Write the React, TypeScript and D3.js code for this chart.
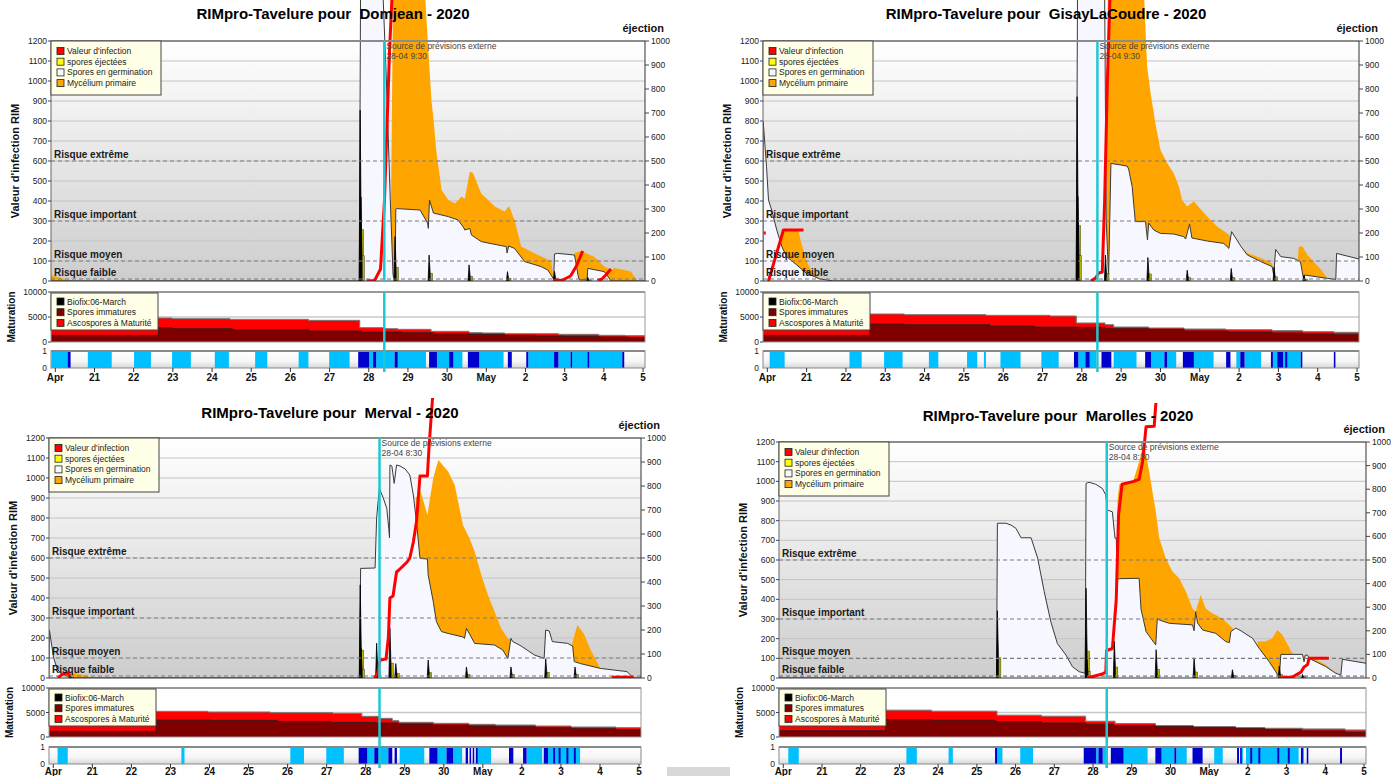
import React from "react";
import * as d3 from "d3";

type P = [number, number];

// ---------- shared axes / labels ----------
const DAY_TICKS = d3.range(0, 16);
const DAY_LABELS = ["Apr", "21", "22", "23", "24", "25", "26", "27", "28", "29", "30", "May", "2", "3", "4", "5"];
const LEFT_TICKS = d3.range(0, 1201, 100);
const RIGHT_TICKS = d3.range(0, 1001, 100);
const MAT_TICKS = [0, 5000, 10000];
const RISKS = [
  { v: 600, label: "Risque extrême" },
  { v: 300, label: "Risque important" },
  { v: 100, label: "Risque moyen" },
  { v: 10, label: "Risque faible" },
];
const LEGEND_MAIN = [
  { label: "Valeur d'infection", color: "#ff0000" },
  { label: "spores éjectées", color: "#ffff00" },
  { label: "Spores en germination", color: "#f8f8ff" },
  { label: "Mycélium primaire", color: "#ffa500" },
];
const LEGEND_MAT = [
  { label: "Biofix:06-March", color: "#000000" },
  { label: "Spores immatures", color: "#800000" },
  { label: "Ascospores à Maturité", color: "#ff0000" },
];
const DOMAIN: [number, number] = [-0.11, 15.05];

// ---------- Domjean ----------
const domjeanGerm: P[] = [[-0.11,0],[7.76,0],[7.79,1450],[8.36,1450],[8.45,1000],[8.55,400],[8.62,30],[8.66,0],[8.67,0],[8.69,360],[8.71,362],[9.31,355],[9.50,290],[9.52,263],[9.55,405],[9.65,340],[10.03,322],[10.28,305],[10.43,265],[10.45,255],[10.58,263],[10.62,230],[10.87,197],[11.30,180],[11.51,172],[11.53,140],[11.57,175],[11.72,163],[11.98,97],[12.40,72],[12.57,55],[12.70,15],[12.72,5],[12.74,135],[12.82,138],[13.25,130],[13.35,20],[13.38,5],[13.57,5],[13.59,63],[14.01,47],[14.15,10],[14.18,0],[15.05,0]];
const domjeanMyc: P[] = [[-0.11,30],[0.40,0],[8.55,0],[8.62,1450],[9.43,1450],[9.60,900],[9.65,813],[9.73,638],[9.86,455],[10.03,405],[10.20,388],[10.37,422],[10.45,410],[10.58,547],[10.66,540],[10.87,438],[11.22,372],[11.47,347],[11.58,375],[11.72,305],[11.89,172],[12.06,155],[12.40,122],[12.65,100],[12.72,15],[12.74,0],[13.20,0],[13.25,140],[13.42,150],[13.76,120],[14.01,72],[14.18,55],[14.27,65],[14.69,47],[14.86,0],[15.05,0]];
const domjeanInfect: P[][] = [
  [[7.95,0],[8.15,3],[8.30,60],[8.40,400],[8.47,800],[8.53,1150],[8.60,1450]],
  [[12.70,2],[12.95,5],[13.15,25],[13.30,75],[13.46,150]],
  [[13.84,2],[13.95,10],[14.05,30],[14.18,60]],
];
const domjeanEject: P[] = [[7.78,712],[7.80,350],[8.67,185],[9.54,108],[10.56,67],[11.54,39],[12.74,40],[13.59,15]];
const domjeanImmature: P[] = [[-0.11,1333],[2.63,2867],[2.98,2667],[4.52,2467],[6.46,2200],[7.82,2000],[8.85,1867],[9.65,1667],[10.56,1533],[11.47,1333],[12.27,1200],[12.96,1133],[13.87,1000],[14.61,867],[15.05,867]];
const domjeanMature: P[] = [[-0.11,4800],[2.98,4667],[4.46,4533],[6.46,4333],[7.77,2867],[8.40,2667],[8.74,2533],[9.59,2133],[10.56,1867],[10.90,1800],[11.47,1667],[12.84,1533],[13.87,1333],[14.55,1267],[15.05,1267]];
const domjeanWet: P[] = [[-0.10,0.35],[0.83,1.44],[2.01,2.44],[2.98,3.46],[4.07,4.43],[5.10,5.41],[6.21,6.46],[6.99,7.51],[8.01,8.11],[8.19,8.66],[8.74,9.46],[9.74,10.05],[10.16,10.39],[10.82,11.44],[12.07,12.73],[12.84,13.15],[13.18,13.58],[13.63,14.47]];
const domjeanRain: P[] = [[0.32,0.39],[7.73,8.01],[8.11,8.19],[8.66,8.74],[9.54,9.74],[10.05,10.16],[10.53,10.82],[11.55,11.65],[12.02,12.07],[12.73,12.84],[13.15,13.18],[13.58,13.63],[14.47,14.52]];

// ---------- GisayLaCoudre ----------
const gisayGerm: P[] = [[-0.11,0],[-0.105,797],[-0.02,572],[0.03,405],[0.11,355],[0.24,255],[0.37,172],[0.49,122],[0.75,80],[1.00,38],[1.34,10],[1.68,0],[7.86,0],[7.89,1450],[8.58,1450],[8.62,300],[8.68,20],[8.74,588],[9.15,575],[9.19,560],[9.28,472],[9.36,297],[9.62,297],[9.67,205],[9.70,290],[9.83,255],[10.00,238],[10.34,235],[10.59,222],[10.64,210],[10.74,285],[10.80,215],[11.19,200],[11.61,188],[11.74,163],[11.81,247],[12.04,175],[12.21,130],[12.55,97],[12.84,72],[12.88,30],[12.93,158],[13.06,122],[13.39,113],[13.56,97],[13.64,10],[13.67,30],[14.25,13],[14.46,8],[14.48,138],[15.05,110]];
const gisayMyc: P[] = [[-0.11,0],[0.30,0],[0.37,255],[0.79,255],[0.85,200],[1.00,100],[1.15,40],[1.43,0],[8.62,0],[8.66,1450],[9.58,1450],[9.66,1072],[9.75,938],[9.87,790],[10.00,655],[10.17,590],[10.34,538],[10.47,472],[10.55,405],[10.68,372],[10.85,397],[11.02,360],[11.19,322],[11.44,272],[11.70,238],[11.87,205],[12.04,163],[12.21,140],[12.55,115],[12.84,88],[12.88,0],[13.45,0],[13.52,172],[13.61,172],[13.74,130],[14.07,60],[14.25,13],[14.30,0],[15.05,0]];
const gisayInfect: P[][] = [
  [[-0.09,240],[-0.04,240]],
  [[0.03,0],[0.41,255],[0.92,255]],
  [[8.23,0],[8.35,15],[8.43,40],[8.52,45],[8.58,400],[8.65,1000],[8.72,1450]],
];
const gisayEject: P[] = [[7.88,768],[7.90,352],[8.60,108],[9.68,98],[10.68,45],[11.80,52],[12.89,58],[13.65,24]];
const gisayImmature: P[] = [[-0.11,1333],[2.60,3600],[3.49,3467],[5.67,3200],[6.79,3000],[7.86,2933],[8.59,2667],[9.70,2533],[10.60,2200],[11.72,2000],[12.84,1800],[13.62,1600],[14.41,1467],[15.05,1467]];
const gisayMature: P[] = [[-0.11,5600],[3.49,5467],[5.56,5333],[7.19,5200],[7.86,3800],[8.59,3467],[8.81,3000],[9.70,2800],[10.60,2600],[11.66,2467],[12.84,2267],[13.62,2067],[14.41,1933],[15.05,1933]];
const gisayWet: P[] = [[0.06,0.44],[2.09,2.40],[2.97,3.44],[4.11,4.35],[5.08,5.34],[5.51,5.56],[5.93,6.44],[6.97,7.41],[7.91,8.09],[8.20,8.36],[8.81,9.39],[9.76,10.10],[10.17,10.40],[10.85,11.35],[11.93,12.03],[12.14,12.56],[12.86,12.97],[13.12,13.17],[13.23,13.57]];
const gisayRain: P[] = [[7.80,7.91],[8.09,8.20],[8.50,8.75],[9.61,9.76],[10.10,10.17],[10.57,10.85],[11.67,11.78],[12.03,12.14],[12.81,12.86],[12.97,13.12],[13.17,13.23],[13.57,13.60],[14.41,14.45]];

// ---------- Merval ----------
const mervalGerm: P[] = [[-0.11,0],[-0.10,240],[-0.03,150],[0.01,100],[0.09,50],[0.18,25],[0.35,10],[0.43,0],[7.84,0],[7.87,548],[8.24,550],[8.28,800],[8.35,948],[8.45,900],[8.54,848],[8.59,748],[8.61,700],[8.62,1065],[8.67,1060],[8.73,973],[8.79,1065],[8.88,1060],[9.01,1045],[9.13,1015],[9.22,915],[9.30,782],[9.39,598],[9.58,595],[9.60,515],[9.73,382],[9.81,282],[9.94,232],[10.11,223],[10.49,205],[10.53,198],[10.58,248],[10.66,220],[10.79,173],[11.30,165],[11.51,140],[11.64,98],[11.72,198],[11.76,183],[11.98,160],[12.32,115],[12.57,98],[12.61,240],[12.70,235],[12.78,182],[13.17,173],[13.30,160],[13.34,82],[13.50,72],[14.01,48],[14.35,40],[14.69,32],[14.86,0],[15.05,0]];
const mervalMyc: P[] = [[-0.11,0],[0.35,0],[0.38,25],[0.60,22],[1.05,0],[9.25,0],[9.28,900],[9.41,932],[9.50,870],[9.58,815],[9.73,1000],[9.86,1090],[10.11,1032],[10.28,965],[10.49,765],[10.66,698],[10.79,632],[10.96,515],[11.13,415],[11.30,332],[11.47,248],[11.64,198],[11.72,190],[11.76,0],[13.20,0],[13.25,148],[13.42,265],[13.59,220],[13.76,140],[14.01,48],[14.05,0],[15.05,0]];
const mervalInfect: P[][] = [
  [[0.12,0],[0.24,20],[0.37,25],[0.43,10]],
  [[8.22,0],[8.30,20],[8.37,90],[8.52,95],[8.58,200],[8.62,400],[8.70,410],[8.79,530],[8.85,540],[9.06,580],[9.13,600],[9.22,680],[9.30,780],[9.39,1010],[9.58,1010],[9.62,1150],[9.73,1450]],
  [[14.30,4],[14.86,4]],
];
const mervalEject: P[] = [[0.43,10],[7.86,388],[7.88,124],[8.28,145],[8.62,207],[8.77,60],[9.60,75],[10.58,46],[11.72,46],[12.61,80],[13.36,46]];
const mervalImmature: P[] = [[-0.11,1156],[2.63,3469],[4.02,3400],[5.73,3200],[7.10,2993],[8.24,2857],[8.85,2653],[9.73,2449],[10.64,2245],[11.32,2109],[12.35,1905],[13.26,1701],[14.41,1497],[15.05,1497]];
const mervalMature: P[] = [[-0.11,5238],[3.96,5102],[5.56,4966],[7.16,4830],[7.90,4218],[8.36,3810],[8.68,3333],[8.85,2993],[9.73,2789],[10.64,2585],[11.32,2449],[12.35,2245],[13.26,2041],[14.41,1905],[15.05,1905]];
const mervalWet: P[] = [[0.11,0.37],[3.28,3.36],[6.07,6.42],[6.99,7.44],[8.04,8.22],[8.36,8.58],[8.87,9.50],[9.84,10.07],[10.24,10.47],[10.87,11.21],[12.12,12.52],[12.67,13.49]];
const mervalRain: P[] = [[7.82,8.04],[8.22,8.36],[8.58,8.68],[8.74,8.80],[9.63,9.84],[10.07,10.24],[10.56,10.62],[10.66,10.70],[10.74,10.78],[10.82,10.87],[11.67,11.78],[12.03,12.12],[12.56,12.67],[12.80,12.85],[12.94,12.99],[13.14,13.19],[13.33,13.38]];

// ---------- Marolles ----------
const marollesGerm: P[] = [[-0.11,0],[5.51,0],[5.53,787],[5.75,787],[5.88,778],[6.01,761],[6.14,713],[6.40,713],[6.57,609],[6.74,439],[6.91,286],[7.08,175],[7.30,117],[7.47,57],[7.64,32],[7.80,24],[7.82,990],[7.90,995],[8.07,985],[8.24,964],[8.33,930],[8.37,854],[8.50,845],[8.55,744],[8.57,710],[8.60,712],[8.63,500],[8.68,505],[9.19,507],[9.24,350],[9.37,236],[9.62,168],[9.66,303],[9.71,295],[9.97,278],[10.57,270],[10.61,240],[10.65,337],[10.70,280],[10.83,244],[11.17,227],[11.43,185],[11.52,180],[11.56,236],[11.69,254],[11.82,240],[12.12,202],[12.29,151],[12.55,83],[12.72,32],[12.81,0],[12.85,120],[13.41,120],[13.45,83],[13.48,116],[13.54,116],[13.58,100],[14.01,58],[14.27,24],[14.40,15],[14.44,95],[15.05,75]];
const marollesMyc: P[] = [[-0.11,0],[8.60,0],[8.63,900],[8.68,985],[9.03,995],[9.19,1100],[9.28,1170],[9.32,1185],[9.45,1049],[9.62,846],[9.71,710],[9.88,609],[10.05,542],[10.22,508],[10.40,439],[10.57,354],[10.65,337],[10.78,422],[10.91,354],[11.08,329],[11.34,303],[11.52,269],[11.69,236],[11.72,0],[12.22,0],[12.25,185],[12.45,185],[12.63,202],[12.76,244],[12.89,220],[13.15,125],[13.32,118],[13.67,102],[14.01,68],[14.27,24],[14.30,0],[15.05,0]];
const marollesInfect: P[][] = [
  [[7.85,0],[8.24,20],[8.33,30],[8.35,140],[8.50,150],[8.60,400],[8.66,830],[8.75,985],[9.05,1000],[9.19,1010],[9.28,1100],[9.37,1278],[9.58,1280],[9.62,1390],[9.66,1450]],
  [[12.81,0],[13.15,5],[13.37,30],[13.45,56],[13.54,68],[13.58,100],[14.09,100]],
];
const marollesEject: P[] = [[5.53,285],[7.82,380],[7.84,90],[8.55,155],[9.63,120],[10.61,85],[11.60,35],[12.81,50],[13.41,15]];
const marollesImmature: P[] = [[-0.11,1301],[2.64,3562],[3.83,3425],[5.47,3151],[6.67,2877],[7.81,2603],[8.52,2329],[9.61,2123],[10.59,1918],[11.68,1712],[12.44,1507],[13.37,1233],[14.51,959],[15.05,959]];
const marollesMature: P[] = [[-0.11,5479],[3.83,5274],[5.52,4452],[6.67,4247],[7.81,3219],[8.57,2740],[9.61,2329],[10.59,2123],[11.68,1918],[12.44,1781],[13.42,1644],[14.51,1438],[15.05,1438]];
const marollesWet: P[] = [[0.13,0.40],[3.18,3.45],[4.27,4.38],[5.52,5.66],[6.12,6.45],[8.08,8.14],[8.25,8.35],[8.79,9.41],[9.77,10.10],[10.15,10.42],[11.13,11.35],[11.82,11.87],[11.95,13.31],[13.40,13.45]];
const marollesRain: P[] = [[5.47,5.52],[7.76,8.08],[8.14,8.25],[8.46,8.79],[9.61,9.77],[10.10,10.15],[10.57,10.83],[11.72,11.77],[11.80,11.84],[12.06,12.11],[12.27,12.32],[12.76,12.81],[13.03,13.08],[13.37,13.42],[13.52,13.56],[14.38,14.43]];

// ---------- panel configs ----------
const PANELS = [
  {
    id: "p1", name: "Domjean", forecast: 8.396, forecastLabel: "28-04 9:30",
    L: { left: 51, right: 645, top: 41, bottom: 281, matTop: 292, matBottom: 342, wetTop: 351, wetBottom: 368, labelY: 381, titleX: 333, titleY: 19, clipTop: 0 },
    germ: domjeanGerm, myc: domjeanMyc, infect: domjeanInfect, eject: domjeanEject,
    immature: domjeanImmature, mature: domjeanMature, wet: domjeanWet, rain: domjeanRain,
  },
  {
    id: "p2", name: "GisayLaCoudre", forecast: 8.396, forecastLabel: "28-04 9:30",
    L: { left: 763, right: 1359, top: 41, bottom: 281, matTop: 292, matBottom: 342, wetTop: 351, wetBottom: 368, labelY: 381, titleX: 1046, titleY: 19, clipTop: 0 },
    germ: gisayGerm, myc: gisayMyc, infect: gisayInfect, eject: gisayEject,
    immature: gisayImmature, mature: gisayMature, wet: gisayWet, rain: gisayRain,
  },
  {
    id: "p3", name: "Merval", forecast: 8.354, forecastLabel: "28-04 8:30",
    L: { left: 49, right: 641, top: 438, bottom: 678, matTop: 688, matBottom: 737, wetTop: 747, wetBottom: 764, labelY: 775, titleX: 330, titleY: 418, clipTop: 398 },
    germ: mervalGerm, myc: mervalMyc, infect: mervalInfect, eject: mervalEject,
    immature: mervalImmature, mature: mervalMature, wet: mervalWet, rain: mervalRain,
  },
  {
    id: "p4", name: "Marolles", forecast: 8.354, forecastLabel: "28-04 8:30",
    L: { left: 779, right: 1366, top: 442, bottom: 678, matTop: 688, matBottom: 737, wetTop: 747, wetBottom: 764, labelY: 775, titleX: 1058, titleY: 421, clipTop: 403 },
    germ: marollesGerm, myc: marollesMyc, infect: marollesInfect, eject: marollesEject,
    immature: marollesImmature, mature: marollesMature, wet: marollesWet, rain: marollesRain,
  },
];

const FONT = "'Liberation Sans', Arial, Helvetica, sans-serif";

function Panel({ cfg }: { cfg: any }) {
  const L = cfg.L;
  const x = d3.scaleLinear().domain(DOMAIN).range([L.left, L.right]);
  const yL = d3.scaleLinear().domain([0, 1200]).range([L.bottom, L.top]);
  const yR = d3.scaleLinear().domain([0, 1000]).range([L.bottom, L.top]);
  const yM = d3.scaleLinear().domain([0, 10000]).range([L.matBottom, L.matTop]);

  const areaMain = d3.area<P>().x((d) => x(d[0])).y0(L.bottom).y1((d) => yL(d[1]));
  const lineMain = d3.line<P>().x((d) => x(d[0])).y((d) => yL(d[1]));
  const areaMat = d3.area<P>().curve(d3.curveStepAfter).x((d) => x(d[0])).y0(L.matBottom).y1((d) => yM(d[1]));
  const lineMat = d3.line<P>().curve(d3.curveStepAfter).x((d) => x(d[0])).y((d) => yM(d[1]));

  const fx = x(cfg.forecast);
  const clipId = `clip-${cfg.id}`;
  const bgId = `bg-${cfg.id}`;
  const wetBgId = `wbg-${cfg.id}`;
  const w = L.right - L.left;

  return (
    <g fontFamily={FONT}>
      <defs>
        <clipPath id={clipId}>
          <rect x={L.left} y={L.clipTop} width={w} height={L.bottom - L.clipTop} />
        </clipPath>
        <linearGradient id={bgId} x1="0" y1="0" x2="0" y2="1">
          <stop offset="0%" stopColor="#ffffff" />
          <stop offset="100%" stopColor="#cdcdcd" />
        </linearGradient>
        <linearGradient id={wetBgId} x1="0" y1="0" x2="0" y2="1">
          <stop offset="0%" stopColor="#ffffff" />
          <stop offset="60%" stopColor="#f6f6f6" />
          <stop offset="100%" stopColor="#d8d8d8" />
        </linearGradient>
      </defs>

      {/* main plot background */}
      <rect x={L.left} y={L.top} width={w} height={L.bottom - L.top} fill={`url(#${bgId})`} />
      {LEFT_TICKS.filter((t) => t > 0).map((t) => (
        <line key={`g${t}`} x1={L.left} x2={L.right} y1={yL(t)} y2={yL(t)} stroke="#c4c4c4" strokeWidth={1} />
      ))}

      <g clipPath={`url(#${clipId})`}>
        <path d={areaMain(cfg.myc) || ""} fill="#ffa500" />
        <path d={areaMain(cfg.germ) || ""} fill="#f7f8ff" />
        <path d={lineMain(cfg.germ) || ""} fill="none" stroke="#3a3a3a" strokeWidth={1} />
        {cfg.eject.map((e: P, i: number) => (
          <g key={`e${i}`}>
            <path
              d={`M${x(e[0]) - 1},${L.bottom}L${x(e[0])},${yR(e[1])}L${x(e[0]) + 1.5},${L.bottom}Z`}
              fill="#000"
              stroke="#000"
              strokeWidth={0.8}
            />
            <rect x={x(e[0]) + 1.5} y={yR(e[1] * 0.3)} width={2} height={L.bottom - yR(e[1] * 0.3)} fill="#b5b500" stroke="#222" strokeWidth={0.4} />
          </g>
        ))}
        {RISKS.map((r) => (
          <line key={`r${r.v}`} x1={L.left} x2={L.right} y1={yL(r.v)} y2={yL(r.v)} stroke="#7a7a7a" strokeWidth={1.2} strokeDasharray="4,3" />
        ))}
        {cfg.infect.map((seg: P[], i: number) => (
          <path key={`i${i}`} d={lineMain(seg) || ""} fill="none" stroke="#ff0000" strokeWidth={3} strokeLinejoin="round" />
        ))}
      </g>

      {/* risk labels */}
      {RISKS.map((r) => (
        <text key={`rl${r.v}`} x={L.left + 3} y={yL(r.v) - 3} fontSize={10} fontWeight="bold" fill="#1a1a1a">
          {r.label}
        </text>
      ))}

      {/* axes frame */}
      <line x1={L.left} x2={L.right} y1={L.top} y2={L.top} stroke="#8c8c8c" strokeWidth={2} />
      <line x1={L.left} x2={L.left} y1={L.top} y2={L.bottom} stroke="#666" strokeWidth={1} />
      <line x1={L.right} x2={L.right} y1={L.top} y2={L.bottom} stroke="#333" strokeWidth={1} />
      <line x1={L.left} x2={L.right} y1={L.bottom} y2={L.bottom} stroke="#333" strokeWidth={1} />

      {/* left ticks */}
      {LEFT_TICKS.map((t) => (
        <g key={`lt${t}`}>
          <line x1={L.left - 3} x2={L.left} y1={yL(t)} y2={yL(t)} stroke="#444" />
          <text x={L.left - 4} y={yL(t) + 3} fontSize={8.5} textAnchor="end" fill="#222">{t}</text>
        </g>
      ))}
      {/* right ticks */}
      {RIGHT_TICKS.map((t) => (
        <g key={`rt${t}`}>
          <line x1={L.right} x2={L.right + 4} y1={yR(t)} y2={yR(t)} stroke="#444" />
          <text x={L.right + 6} y={yR(t) + 3} fontSize={8.5} fill="#222">{t}</text>
        </g>
      ))}
      <text x={L.right + 19} y={L.top - 9} fontSize={11} fontWeight="bold" textAnchor="end" fill="#111">éjection</text>
      <text
        transform={`translate(${L.left - 32},${(L.top + L.bottom) / 2}) rotate(-90)`}
        fontSize={11}
        fontWeight="bold"
        textAnchor="middle"
        fill="#111"
      >
        Valeur d'infection RIM
      </text>

      {/* forecast line */}
      <line x1={fx} x2={fx} y1={L.top} y2={L.bottom} stroke="#1ec8d2" strokeWidth={2.5} />
      <text x={fx + 2} y={L.top + 8} fontSize={8.5} fill="#444">Source de prévisions externe</text>
      <text x={fx + 2} y={L.top + 18} fontSize={8.5} fill="#444">{cfg.forecastLabel}</text>

      {/* main legend */}
      <rect x={L.left} y={L.top} width={110} height={54} fill="#ffffe8" stroke="#444" strokeWidth={1} />
      {LEGEND_MAIN.map((it, i) => (
        <g key={`lg${i}`}>
          <rect x={L.left + 6} y={L.top + 6.5 + i * 10.7} width={7} height={7} fill={it.color} stroke="#222" strokeWidth={0.8} />
          <text x={L.left + 16} y={L.top + 13 + i * 10.7} fontSize={8.5} fill="#222">{it.label}</text>
        </g>
      ))}

      {/* title */}
      <text x={L.titleX} y={L.titleY} fontSize={15} fontWeight="bold" textAnchor="middle" fill="#000" style={{ whiteSpace: "pre" }}>
        {`RIMpro-Tavelure pour  ${cfg.name} - 2020`}
      </text>

      {/* maturation panel */}
      <rect x={L.left} y={L.matTop} width={w} height={L.matBottom - L.matTop} fill="#ffffff" />
      <line x1={L.left} x2={L.right} y1={yM(5000)} y2={yM(5000)} stroke="#c8c8c8" strokeWidth={1.5} />
      <path d={areaMat(cfg.mature) || ""} fill="#ff0000" />
      <path d={lineMat(cfg.mature) || ""} fill="none" stroke="#777" strokeWidth={1} />
      <path d={areaMat(cfg.immature) || ""} fill="#800000" />
      <path d={lineMat(cfg.immature) || ""} fill="none" stroke="#222" strokeWidth={0.8} />
      <rect x={L.left} y={L.matTop} width={w} height={L.matBottom - L.matTop} fill="none" stroke="#999" strokeWidth={1} />
      <line x1={L.left} x2={L.right} y1={L.matTop} y2={L.matTop} stroke="#999" strokeWidth={2} />
      {MAT_TICKS.map((t) => (
        <g key={`mt${t}`}>
          <line x1={L.left - 3} x2={L.left} y1={yM(t)} y2={yM(t)} stroke="#444" />
          <text x={L.left - 4} y={yM(t) + 3} fontSize={8.5} textAnchor="end" fill="#222">{t}</text>
        </g>
      ))}
      <text
        transform={`translate(${L.left - 36},${(L.matTop + L.matBottom) / 2}) rotate(-90)`}
        fontSize={10}
        fontWeight="bold"
        textAnchor="middle"
        fill="#111"
      >
        Maturation
      </text>
      <rect x={L.left} y={L.matTop + 1} width={107} height={37} fill="#ffffe8" stroke="#444" strokeWidth={1} />
      {LEGEND_MAT.map((it, i) => (
        <g key={`ml${i}`}>
          <rect x={L.left + 6} y={L.matTop + 6 + i * 10.7} width={7} height={7} fill={it.color} stroke="#222" strokeWidth={0.8} />
          <text x={L.left + 16} y={L.matTop + 12.5 + i * 10.7} fontSize={8.5} fill="#222">{it.label}</text>
        </g>
      ))}

      {/* wetness strip */}
      <rect x={L.left} y={L.wetTop} width={w} height={L.wetBottom - L.wetTop} fill={`url(#${wetBgId})`} />
      {cfg.wet.map((r: P, i: number) => (
        <rect key={`w${i}`} x={x(r[0])} y={L.wetTop} width={Math.max(1, x(r[1]) - x(r[0]))} height={L.wetBottom - L.wetTop} fill="#00c0ff" />
      ))}
      {cfg.rain.map((r: P, i: number) => (
        <rect key={`rn${i}`} x={x(r[0])} y={L.wetTop} width={Math.max(1.5, x(r[1]) - x(r[0]))} height={L.wetBottom - L.wetTop} fill="#0000cd" />
      ))}
      <rect x={L.left} y={L.wetTop} width={w} height={L.wetBottom - L.wetTop} fill="none" stroke="#888" strokeWidth={1} />
      <line x1={L.left} x2={L.right} y1={L.wetTop} y2={L.wetTop} stroke="#888" strokeWidth={2} />
      <text x={L.left - 4} y={L.wetTop + 3} fontSize={8.5} textAnchor="end" fill="#222">1</text>
      <text x={L.left - 4} y={L.wetBottom + 3} fontSize={8.5} textAnchor="end" fill="#222">0</text>

      {/* forecast line through lower panels */}
      <line x1={fx} x2={fx} y1={L.matTop} y2={L.wetBottom + 4} stroke="#1ec8d2" strokeWidth={2.5} />

      {/* bottom axis */}
      {DAY_TICKS.map((d, i) => (
        <g key={`dt${d}`}>
          <line x1={x(d)} x2={x(d)} y1={L.wetBottom} y2={L.wetBottom + 4} stroke="#333" />
          <text x={x(d)} y={L.labelY} fontSize={10} fontWeight="bold" textAnchor="middle" fill="#111">{DAY_LABELS[i]}</text>
        </g>
      ))}
    </g>
  );
}

export default function App() {
  return (
    <svg width={1391} height={776} style={{ position: "absolute", left: 0, top: 0, background: "#fff" }}>
      <rect x={0} y={0} width={1391} height={776} fill="#fff" />
      {PANELS.map((p) => (
        <Panel key={p.id} cfg={p} />
      ))}
      <rect x={667} y={767} width={63} height={9} fill="#d8d8d8" />
    </svg>
  );
}
